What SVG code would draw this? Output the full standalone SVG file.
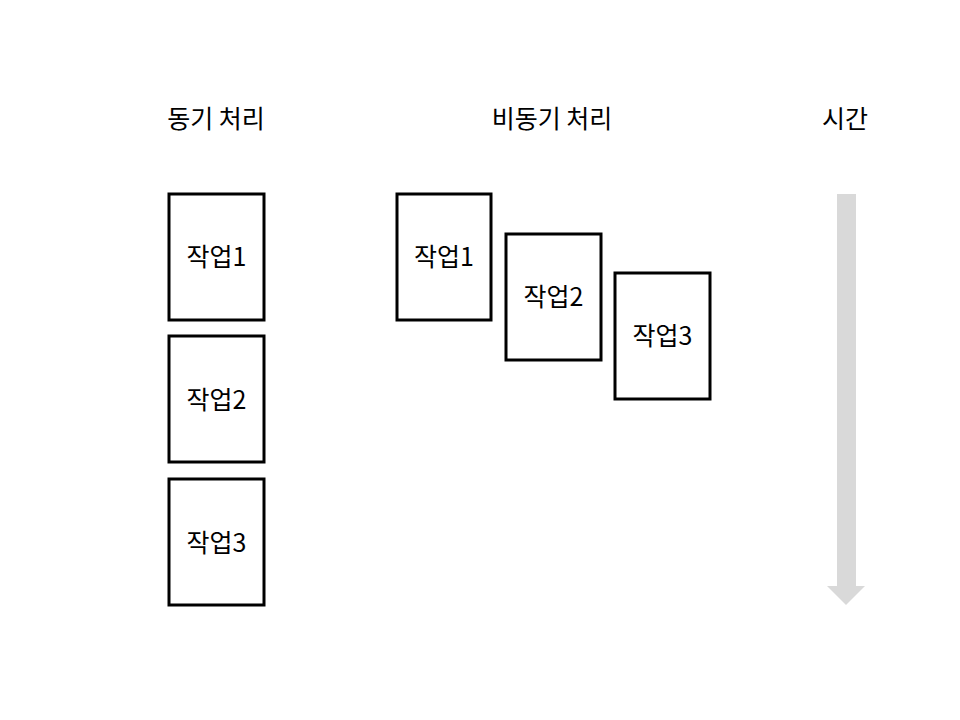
<svg xmlns="http://www.w3.org/2000/svg" width="960" height="720" viewBox="0 0 960 720">
<style>
.box{fill:#fff;stroke:#000;stroke-width:3}
.t{font-family:"Noto Sans CJK KR","Liberation Sans",sans-serif;font-size:25px;fill:#000;text-anchor:middle}
</style>
<rect width="960" height="720" fill="#fff"/>
<g id="titles">
<text class="t" x="216" y="128">동기 처리</text>
<text class="t" x="552" y="128">비동기 처리</text>
<text class="t" x="845" y="128">시간</text>
</g>
<g id="sync1"><rect class="box" x="169" y="194" width="95" height="126"/><text class="t" x="216.5" y="266">작업1</text></g>
<g id="sync2"><rect class="box" x="169" y="336" width="95" height="126"/><text class="t" x="216.5" y="409">작업2</text></g>
<g id="sync3"><rect class="box" x="169" y="479" width="95" height="126"/><text class="t" x="216.5" y="552">작업3</text></g>
<g id="async1"><rect class="box" x="397" y="194" width="94" height="126"/><text class="t" x="444" y="266">작업1</text></g>
<g id="async2"><rect class="box" x="506" y="234" width="95" height="126"/><text class="t" x="553.5" y="306">작업2</text></g>
<g id="async3"><rect class="box" x="615" y="273" width="95" height="126"/><text class="t" x="662.5" y="345">작업3</text></g>
<g id="connectors">
<path id="time-arrow" d="M837,194 H856 V586 H865 L846,605 L827,586 H837 Z" fill="#d9d9d9"/>
</g>
</svg>
